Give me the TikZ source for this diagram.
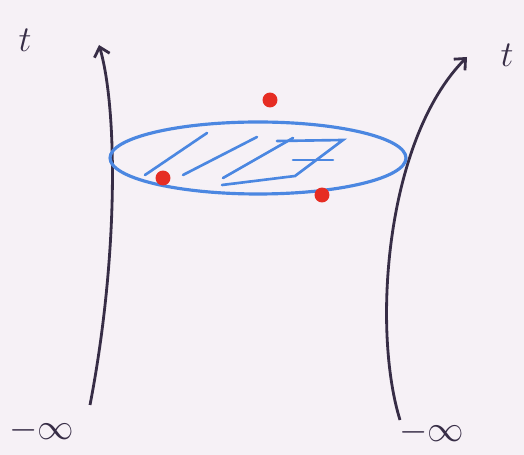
\documentclass[tikz,border=0pt]{standalone}
\usepackage{tikz}
\usetikzlibrary{shapes.geometric, arrows.meta, positioning}
\definecolor{inkdark}{RGB}{55,45,70}
\definecolor{inkblue}{RGB}{75,135,225}
\definecolor{inkred}{RGB}{230,45,35}
\definecolor{paper}{RGB}{246,241,246}
\tikzstyle{worldline} = [draw=inkdark, line width=1.6pt, -{Straight Barb[length=5pt,width=9pt]}]
\tikzstyle{region} = [draw=inkblue, line width=1.8pt]
\tikzstyle{hatch} = [draw=inkblue, line width=1.5pt, line cap=round]
\tikzstyle{vertex} = [circle, fill=inkred, inner sep=0pt, minimum size=8.5pt]
\tikzstyle{lbl} = [text=inkdark, font=\huge]

\begin{document}
\begin{tikzpicture}[x=0.02cm, y=-0.02cm]

\fill[paper] (0,0) rectangle (524,455);
\useasboundingbox (0,0) rectangle (524,455);

% Estremi delle linee
\coordinate (leftBot) at (90,405);
\coordinate (leftTop) at (99,45);
\coordinate (rightBot) at (400,420);
\coordinate (rightTop) at (467,57);

% Etichette
\node (tLeft) [lbl] at (25,40) {$t$};
\node (tRight) [lbl] at (507,55) {$t$};
\node (infLeft) [lbl] at (42,430) {$-\infty$};
\node (infRight) [lbl] at (432,432) {$-\infty$};

% Linee di mondo
\draw [worldline] (leftBot) .. controls (118,260) and (118,110) .. (leftTop);
\draw [worldline] (rightBot) .. controls (372,330) and (385,140) .. (rightTop);

% Regione tratteggiata
\node (blob) [region, ellipse, minimum width=5.92cm, minimum height=1.44cm] at (258,158) {};
\draw [hatch] (145,175) -- (207,133);
\draw [hatch] (183,175) -- (257,137);
\draw [hatch] (223,178) -- (293,138);
\draw [hatch] (277,141) -- (343,140) -- (295,176) -- (222,185);
\draw [hatch] (293,160) -- (333,160);

% Vertici
\node (v1) [vertex] at (270,100) {};
\node (v2) [vertex] at (163,178) {};
\node (v3) [vertex] at (322,195) {};

\end{tikzpicture}
\end{document}
